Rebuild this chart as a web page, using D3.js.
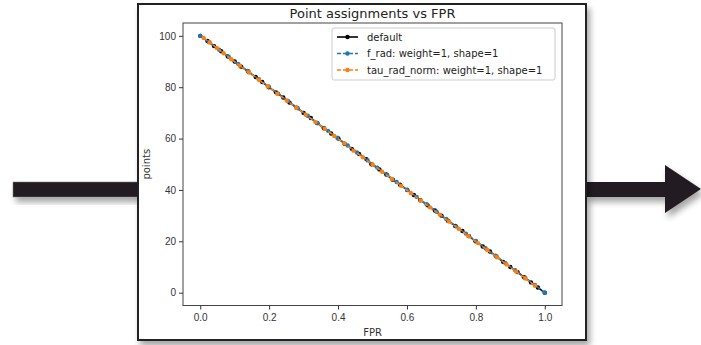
<!DOCTYPE html>
<html>
<head>
<meta charset="utf-8">
<script src="https://cdn.jsdelivr.net/npm/d3@7"></script>
<style>
  body { margin: 0; background: #fff; }
  svg { display: block; font-family: "DejaVu Sans", sans-serif; }
</style>
</head>
<body>
<div id="chart"></div>
<script>
// data
var xTicks = [0, 0.2, 0.4, 0.6, 0.8, 1.0];
var yTicks = [0, 20, 40, 60, 80, 100];

var defaultFpr = [0.000,0.021,0.040,0.061,0.080,0.100,0.119,0.140,0.161,0.180,0.199,0.220,0.241,0.259,0.280,0.300,0.321,0.340,0.359,0.380,0.401,0.419,0.440,0.461,0.482,0.497,0.520,0.540,0.559,0.580,0.601,0.620,0.639,0.660,0.681,0.700,0.719,0.740,0.761,0.780,0.799,0.820,0.841,0.860,0.879,0.900,0.921,0.940,0.960,0.980,1.000];
var defaultPoints = [100,98,96,94,92,90,88,86,84,82,80,78,76,74,72,70,68,66,64,62,60,58,56,54,52,50,48,46,44,42,40,38,36,34,32,30,28,26,24,22,20,18,16,14,12,10,8,6,4,2,0];

var fradFpr = [0.000,0.025,0.055,0.083,0.110,0.138,0.170,0.198,0.226,0.255,0.283,0.312,0.340,0.371,0.398,0.428,0.455,0.486,0.514,0.543,0.570,0.600,0.628,0.657,0.686,0.714,0.743,0.771,0.800,0.828,0.857,0.886,0.914,0.943,0.971,1.000];
var fradPoints = [100,97.6,94.6,91.8,89.1,86.3,83.1,80.3,77.5,74.6,71.8,68.9,66.1,63.0,60.3,57.3,54.6,51.5,48.7,45.8,43.1,40.1,37.3,34.4,31.5,28.7,25.8,23.0,20.1,17.3,14.4,11.5,8.7,5.8,3.0,0];

var tauFpr = [0.010,0.028,0.048,0.068,0.090,0.115,0.142,0.171,0.196,0.224,0.251,0.279,0.306,0.334,0.361,0.389,0.418,0.445,0.472,0.500,0.528,0.556,0.583,0.611,0.640,0.667,0.695,0.722,0.750,0.778,0.806,0.833,0.861,0.889,0.917,0.944,0.972];
var tauPoints = [99.2,97.4,95.3,93.2,90.9,88.4,85.7,82.8,80.3,77.5,74.8,72.0,69.3,66.5,63.8,61.0,58.1,55.3,52.7,49.9,47.1,44.3,41.6,38.8,35.9,33.2,30.4,27.7,24.9,22.1,19.3,16.6,13.8,11.0,8.2,5.5,2.7];

var seriesNames = ["default", "f_rad: weight=1, shape=1", "tau_rad_norm: weight=1, shape=1"];
var seriesColors = ["#000000", "#1f77b4", "#ff7f0e"];

function makeSeries() {
    return [
        { name: seriesNames[0], color: seriesColors[0], dash: null, values: defaultFpr.map((f, i) => ({ x: f, y: defaultPoints[i] })) },
        { name: seriesNames[1], color: seriesColors[1], dash: "4,2", values: fradFpr.map((f, i) => ({ x: f, y: fradPoints[i] })) },
        { name: seriesNames[2], color: seriesColors[2], dash: "4,2", values: tauFpr.map((f, i) => ({ x: f, y: tauPoints[i] })) }
    ];
}

function drawChart(width, height) {
    var svg = d3.select("#chart").append("svg")
        .attr("width", width)
        .attr("height", height);

    // drop shadow used by frame and arrows
    var defs = svg.append("defs");
    var f = defs.append("filter").attr("id", "shadow")
        .attr("x", "-10%").attr("y", "-10%").attr("width", "130%").attr("height", "160%");
    f.append("feDropShadow").attr("dx", 3).attr("dy", 5).attr("stdDeviation", 3)
        .attr("flood-color", "#000").attr("flood-opacity", 0.35);

    // arrows
    svg.append("rect")
        .attr("x", 13).attr("y", 182).attr("width", 126).attr("height", 15)
        .attr("fill", "#231f20").attr("stroke", "#777").attr("stroke-width", 0.5)
        .attr("filter", "url(#shadow)");
    svg.append("path")
        .attr("d", "M585,182 L665,182 L665,165 L701,189 L665,213 L665,197 L585,197 Z")
        .attr("fill", "#231f20")
        .attr("filter", "url(#shadow)");

    // frame
    svg.append("rect")
        .attr("x", 138).attr("y", 4).attr("width", 448).attr("height", 336)
        .attr("fill", "#fff").attr("stroke", "#222").attr("stroke-width", 2)
        .attr("filter", "url(#shadow)");

    var plot = { left: 183, right: 562, top: 23, bottom: 305.5 };

    var x = d3.scaleLinear().domain([-0.05, 1.05]).range([plot.left, plot.right]);
    var y = d3.scaleLinear().domain([-5, 105]).range([plot.bottom, plot.top]);

    var xAxis = d3.axisBottom(x).tickValues(xTicks).tickFormat(d3.format(".1f")).tickSize(4).tickPadding(4);
    var yAxis = d3.axisLeft(y).tickValues(yTicks).tickFormat(d3.format("d")).tickSize(4).tickPadding(3);

    var gx = svg.append("g")
        .attr("transform", "translate(0," + plot.bottom + ")")
        .call(xAxis);
    var gy = svg.append("g")
        .attr("transform", "translate(" + plot.left + ",0)")
        .call(yAxis);
    [gx, gy].forEach(g => {
        g.select(".domain").remove();
        g.selectAll("line").attr("stroke", "#333");
        g.selectAll("text").attr("fill", "#333").style("font-size", "10px");
    });

    // series
    var line = d3.line().x(d => x(d.x)).y(d => y(d.y));
    var series = makeSeries();
    series.forEach(s => {
        svg.append("path")
            .datum(s.values)
            .attr("d", line)
            .attr("fill", "none")
            .attr("stroke", s.color)
            .attr("stroke-width", 1.6)
            .attr("stroke-dasharray", s.dash);
        svg.append("g").selectAll("circle")
            .data(s.values)
            .enter().append("circle")
            .attr("cx", d => x(d.x))
            .attr("cy", d => y(d.y))
            .attr("r", 2.2)
            .attr("fill", s.color);
    });

    // axes box
    svg.append("rect")
        .attr("x", plot.left).attr("y", plot.top)
        .attr("width", plot.right - plot.left).attr("height", plot.bottom - plot.top)
        .attr("fill", "none").attr("stroke", "#444").attr("stroke-width", 1);

    // title and labels
    svg.append("text")
        .attr("x", (plot.left + plot.right) / 2).attr("y", 18)
        .attr("text-anchor", "middle")
        .style("font-size", "13px").attr("fill", "#222")
        .text("Point assignments vs FPR");
    svg.append("text")
        .attr("x", (plot.left + plot.right) / 2).attr("y", 336)
        .attr("text-anchor", "middle")
        .style("font-size", "10px").attr("fill", "#333")
        .text("FPR");
    svg.append("text")
        .attr("transform", "translate(150," + ((plot.top + plot.bottom) / 2) + ") rotate(-90)")
        .attr("text-anchor", "middle")
        .style("font-size", "10px").attr("fill", "#333")
        .text("points");

    // legend
    var legend = svg.append("g").attr("transform", "translate(332,28)");
    legend.append("rect")
        .attr("width", 223).attr("height", 52).attr("rx", 2)
        .attr("fill", "#fff").attr("fill-opacity", 0.8)
        .attr("stroke", "#ccc").attr("stroke-width", 1);
    var item = legend.selectAll(".item")
        .data(series)
        .enter().append("g")
        .attr("class", "item")
        .attr("transform", (d, i) => "translate(0," + (9 + i * 16.5) + ")");
    item.append("line")
        .attr("x1", 5).attr("x2", 26)
        .attr("stroke", d => d.color).attr("stroke-width", 1.6)
        .attr("stroke-dasharray", d => d.dash);
    item.append("circle")
        .attr("cx", 15.5).attr("r", 2.2)
        .attr("fill", d => d.color);
    item.append("text")
        .attr("x", 35).attr("y", 3.5)
        .style("font-size", "10px").attr("fill", "#222")
        .text(d => d.name);
}

drawChart(701, 345);
</script>
</body>
</html>
